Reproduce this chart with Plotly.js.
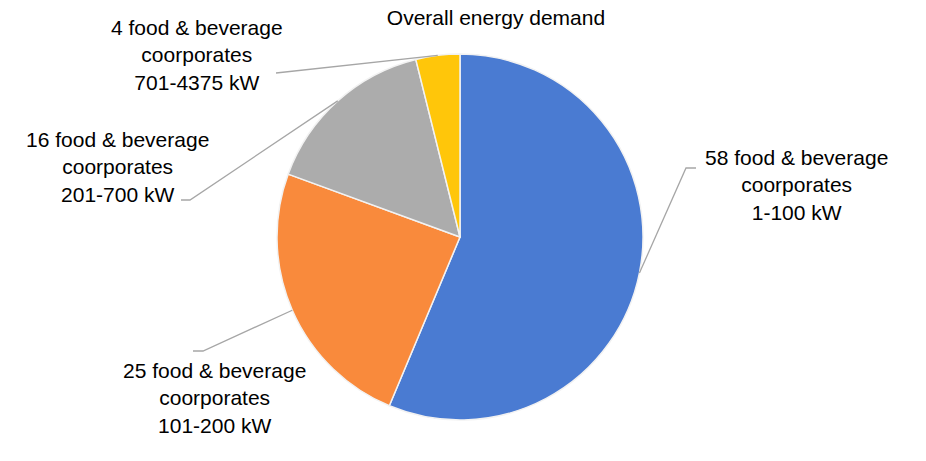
<!DOCTYPE html>
<html>
<head>
<meta charset="utf-8">
<script src="https://cdn.plot.ly/plotly-3.0.1.min.js"></script>
<style>
  html, body { margin: 0; padding: 0; background: #fff; }
  #chart { width: 926px; height: 461px; }
</style>
</head>
<body>
<div id="chart"></div>
<script>
// data
var counts = [58, 25, 16, 4]
var ranges = ["1-100 kW", "101-200 kW", "201-700 kW", "701-4375 kW"]
var colors = ["#4a7bd2", "#f98a3c", "#acacac", "#ffc60a"]

var W = 926, H = 461
var cx = 460, cy = 237, R = 183
var font = "Liberation Sans, Arial, Helvetica, sans-serif"

// where each label sits, and the elbow of its leader line (pixels)
var labelPos = [[796, 185], [214, 398], [117, 167], [197, 55]]
var elbows = [[[686, 168], [696, 168]], [[203, 351], [193, 351]],
              [[190, 200], [181, 200]], [[276, 73], [276, 73]]]

function px(x) { return x / W }
function py(y) { return 1 - y / H }

var total = counts.reduce(function (a, b) { return a + b }, 0)
var annotations = []
var shapes = []
var acc = 0
for (var i = 0; i < counts.length; i++) {
    // mid angle of the slice, clockwise from 12 o'clock
    var mid = (acc + counts[i] / 2) / total * 2 * Math.PI
    acc += counts[i]
    var ax = cx + R * Math.sin(mid)
    var ay = cy - R * Math.cos(mid)
    var e = elbows[i]
    shapes.push({
        type: "path",
        xref: "paper",
        yref: "paper",
        path: "M " + px(ax) + "," + py(ay) +
              " L " + px(e[0][0]) + "," + py(e[0][1]) +
              " L " + px(e[1][0]) + "," + py(e[1][1]),
        line: { color: "#a6a6a6", width: 1.3 },
    })
    annotations.push({
        text: counts[i] + " food &amp; beverage<br>coorporates<br>" + ranges[i],
        x: px(labelPos[i][0]),
        y: py(labelPos[i][1]),
        xref: "paper",
        yref: "paper",
        xanchor: "center",
        yanchor: "middle",
        showarrow: false,
        font: { family: font, size: 21, color: "#000" },
    })
}

Plotly.newPlot(
    document.getElementById("chart"),
    [{
        type: "pie",
        values: counts,
        labels: ranges,
        sort: false,
        direction: "clockwise",
        rotation: 0,
        textinfo: "none",
        hoverinfo: "label+value",
        marker: { colors: colors, line: { color: "#f2f2f2", width: 1.5 } },
        domain: { x: [px(cx - R), px(cx + R)], y: [py(cy + R), py(cy - R)] },
    }],
    {
        width: W,
        height: H,
        showlegend: false,
        margin: { t: 0, l: 0, r: 0, b: 0 },
        paper_bgcolor: "#fff",
        title: {
            text: "Overall energy demand",
            x: px(496),
            y: py(18),
            xref: "paper",
            yref: "container",
            xanchor: "center",
            yanchor: "middle",
            font: { family: font, size: 21, color: "#000" },
        },
        annotations: annotations,
        shapes: shapes,
    },
    { staticPlot: true }
)
</script>
</body>
</html>
